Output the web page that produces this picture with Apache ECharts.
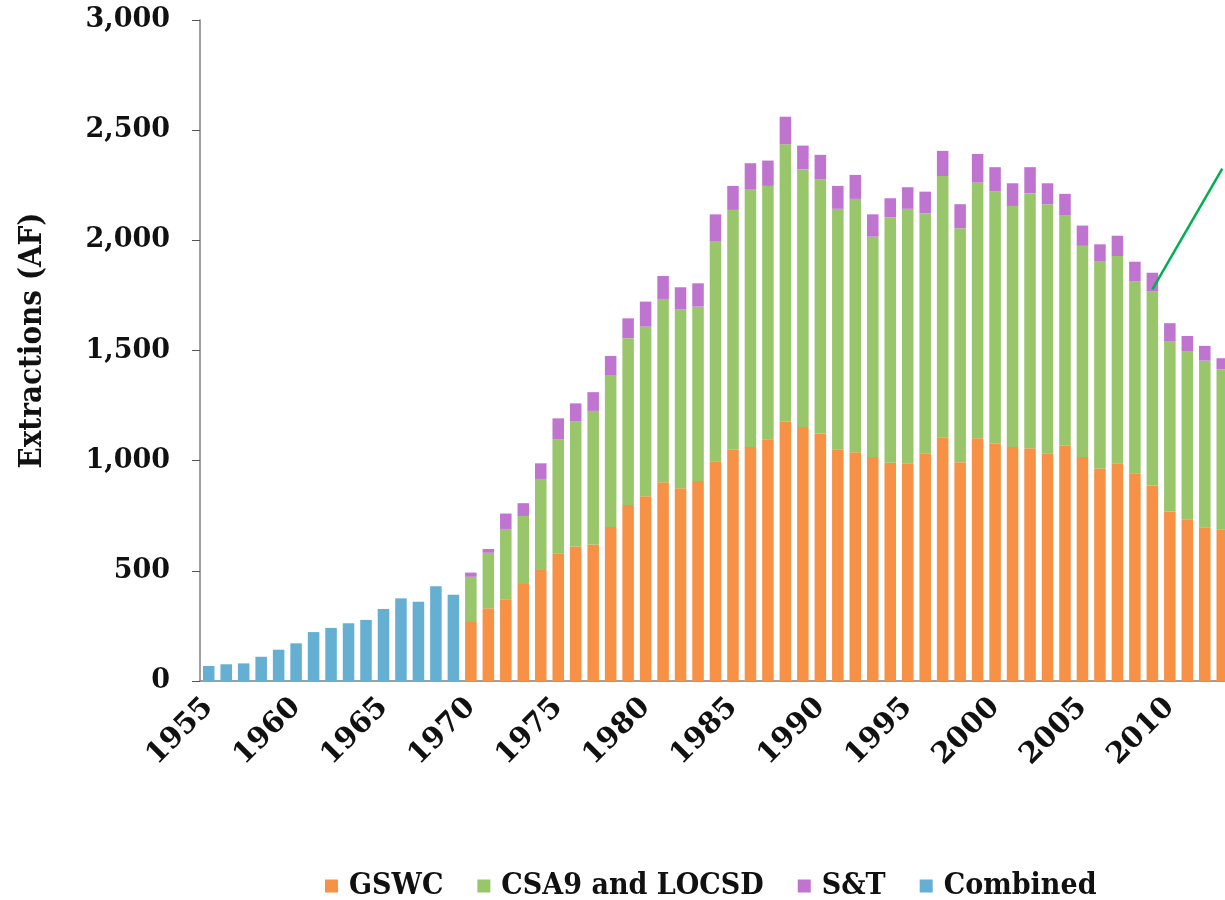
<!DOCTYPE html>
<html>
<head>
<meta charset="utf-8">
<title>Extractions</title>
<script src="https://cdn.jsdelivr.net/npm/echarts@6/dist/echarts.min.js"></script>
<style>
    html, body {
        margin: 0;
        padding: 0;
        background: #ffffff;
        overflow: hidden;
    }
    #chart {
        width: 1240px;
        height: 900px;
    }
</style>
</head>
<body>
<div id="chart"></div>
<script>
// years shown on the axis
var years = []
for (var y = 1955; y <= 2013; y++) years.push(String(y))

// combined extractions, 1955 - 1969
var combined = [68, 76, 80, 110, 142, 171, 222, 241, 262, 277, 327, 375, 360, 430, 392]

// split extractions, 1970 - 2013
var gswc = [272, 330, 371, 440, 504, 580, 610, 619, 699, 799,
    838, 902, 875, 908, 997, 1049, 1062, 1097, 1177, 1153,
    1123, 1049, 1038, 1017, 991, 988, 1034, 1106, 993, 1102,
    1077, 1062, 1056, 1034, 1068, 1017, 964, 988, 943, 887,
    769, 734, 698, 689]
var csa9 = [201, 252, 319, 309, 413, 517, 567, 607, 687, 757,
    770, 832, 812, 791, 1000, 1089, 1171, 1150, 1259, 1169,
    1154, 1094, 1150, 1000, 1114, 1155, 1089, 1186, 1062, 1160,
    1144, 1094, 1157, 1130, 1044, 958, 939, 941, 870, 880,
    771, 761, 756, 726]
var st = [19, 17, 70, 58, 71, 95, 83, 85, 89, 90,
    114, 104, 100, 106, 121, 109, 117, 115, 125, 108,
    111, 104, 109, 101, 86, 98, 98, 114, 109, 130,
    111, 103, 119, 95, 99, 92, 79, 92, 90, 86,
    84, 71, 67, 50]

// callout line (data coords)
var callout = [['2009', 1777], ['2013', 2325]]

var serifBold = "'DejaVu Serif', 'Liberation Serif', serif"
var serifCond = "'DejaVu Serif Condensed', 'DejaVu Serif', serif"

function padBefore(arr) {
    var out = []
    for (var i = 0; i < years.length - arr.length; i++) out.push(null)
    return out.concat(arr)
}
function padAfter(arr) {
    var out = arr.slice()
    while (out.length < years.length) out.push(null)
    return out
}

var chart = echarts.init(document.getElementById('chart'))

var option = {
    animation: false,
    color: ['#F79146', '#99C66B', '#BF75D0', '#65AFD2'],
    grid: {
        left: 200,
        right: 9,
        top: 20,
        bottom: 219,
        containLabel: false,
        outerBoundsMode: 'none'
    },
    legend: {
        left: 320,
        top: 866,
        itemWidth: 13,
        itemHeight: 13,
        itemGap: 34,
        icon: 'rect',
        textStyle: {
            fontFamily: serifCond,
            fontWeight: 'bold',
            fontSize: 30,
            color: '#111',
            padding: [0, 0, 0, 6]
        },
        data: ['GSWC', 'CSA9 and LOCSD', 'S&T', 'Combined']
    },
    xAxis: {
        type: 'category',
        data: years,
        axisLine: { lineStyle: { color: '#808080', width: 1.5 } },
        axisTick: { interval: 4, length: 9, lineStyle: { color: '#444' } },
        axisLabel: {
            interval: 4,
            rotate: 45,
            margin: 22,
            fontFamily: serifBold,
            fontWeight: 'bold',
            fontSize: 29,
            color: '#111'
        }
    },
    yAxis: {
        type: 'value',
        min: 0,
        max: 3000,
        interval: 500,
        name: 'Extractions (AF)',
        nameLocation: 'middle',
        nameGap: 152,
        nameTextStyle: {
            fontFamily: serifCond,
            fontWeight: 'bold',
            fontSize: 31,
            color: '#111',
            padding: [0, 0, 0, 20]
        },
        axisLine: { show: true, lineStyle: { color: '#808080', width: 1.5 } },
        axisTick: { show: true, length: 8, lineStyle: { color: '#555' } },
        splitLine: { show: false },
        axisLabel: {
            margin: 30,
            fontFamily: serifBold,
            fontWeight: 'bold',
            fontSize: 27,
            color: '#111',
            formatter: function (v) { return v.toLocaleString('en-US') }
        }
    },
    series: [
        {
            name: 'GSWC',
            type: 'bar',
            stack: 'split',
            barWidth: '66%',
            barGap: '-100%',
            data: padBefore(gswc)
        },
        {
            name: 'CSA9 and LOCSD',
            type: 'bar',
            stack: 'split',
            data: padBefore(csa9)
        },
        {
            name: 'S&T',
            type: 'bar',
            stack: 'split',
            data: padBefore(st),
            markLine: {
                silent: true,
                symbol: ['none', 'none'],
                label: { show: false },
                lineStyle: { color: '#00B050', width: 2.5, type: 'solid' },
                data: [[
                    { coord: callout[0] },
                    { coord: callout[1] }
                ]]
            }
        },
        {
            name: 'Combined',
            type: 'bar',
            stack: 'combined',
            barWidth: '66%',
            barGap: '-100%',
            data: padAfter(combined)
        }
    ]
}

chart.setOption(option)
</script>
</body>
</html>
